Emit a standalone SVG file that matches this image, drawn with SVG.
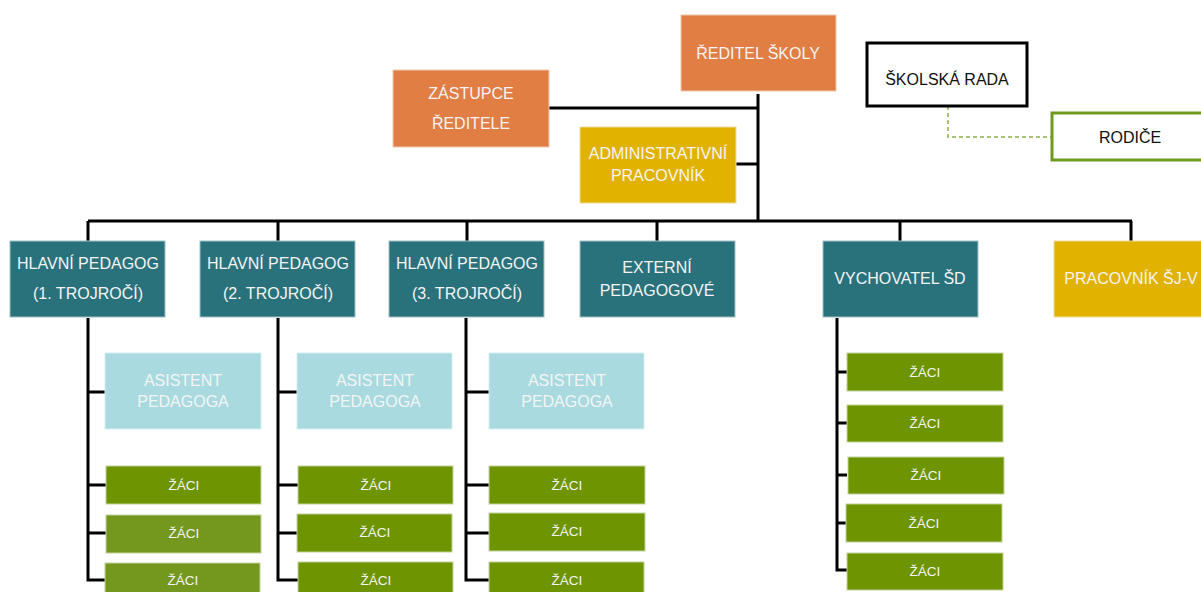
<svg xmlns="http://www.w3.org/2000/svg" width="1201" height="592" viewBox="0 0 1201 592">
<style>
.t{font-family:"Liberation Sans",Arial,sans-serif;font-size:16px;fill:#f4f4f4;text-anchor:middle;dominant-baseline:central}
.s{font-size:13.5px}
.k{fill:#111}
.or{fill:#E07E43;stroke:#f0c9ae;stroke-width:1}
.ye{fill:#E1B300;stroke:#f0dc99;stroke-width:1}
.te{fill:#2A727B;stroke:#9cc0c4;stroke-width:1}
.lb{fill:#A9DAE0;stroke:#d5eef0;stroke-width:1}
.gr{fill:#6E9400;stroke:#c2d499;stroke-width:1}
.gr2{fill:#74981E;stroke:#c2d499;stroke-width:1}
.c{fill:none;stroke:#000;stroke-width:3}
</style>
<g id="connectors">
<path class="c" d="M758 94V222M549 108H758M736 164H758"/>
<path class="c" d="M88 221H1132M88 221V241M278 221V241M467 221V241M657 221V241M900 221V241M1131 221V241"/>
<path class="c" d="M88 318V580H106M88 392H105M88 485H106M88 533H106"/>
<path class="c" d="M278 318V580H298M278 392H297M278 485H298M278 533H298"/>
<path class="c" d="M466 318V580H489M466 392H489M466 485H489M466 533H489"/>
<path class="c" d="M837 318V570H847M837 372H847M837 423H847M837 475H847M837 523H847"/>
<path d="M948 106V137H1052" fill="none" stroke="#8bb04a" stroke-width="1.5" stroke-dasharray="4 3"/>
</g>
<g id="reditel"><rect class="or" x="681" y="15" width="155" height="76"/><text class="t" x="758" y="53">ŘEDITEL ŠKOLY</text></g>
<g id="zastupce"><rect class="or" x="393" y="70" width="156" height="77"/><text class="t" x="471" y="93">ZÁSTUPCE</text><text class="t" x="471" y="123">ŘEDITELE</text></g>
<g id="admin"><rect class="ye" x="580" y="127" width="156" height="76"/><text class="t" x="658" y="153">ADMINISTRATIVNÍ</text><text class="t" x="658" y="175">PRACOVNÍK</text></g>
<g id="rada"><rect x="867" y="43" width="160" height="63" fill="#fff" stroke="#000" stroke-width="3"/><text class="t k" x="947" y="79">ŠKOLSKÁ  RADA</text></g>
<g id="rodice"><rect x="1052" y="113" width="160" height="47" fill="#fff" stroke="#6E9A1E" stroke-width="3"/><text class="t k" x="1130" y="137">RODIČE</text></g>
<g id="hp1"><rect class="te" x="10" y="241" width="155" height="76"/><text class="t" x="88" y="263">HLAVNÍ PEDAGOG</text><text class="t" x="88" y="293">(1. TROJROČÍ)</text></g>
<g id="hp2"><rect class="te" x="200" y="241" width="155" height="76"/><text class="t" x="278" y="263">HLAVNÍ PEDAGOG</text><text class="t" x="278" y="293">(2. TROJROČÍ)</text></g>
<g id="hp3"><rect class="te" x="389" y="241" width="155" height="76"/><text class="t" x="467" y="263">HLAVNÍ PEDAGOG</text><text class="t" x="467" y="293">(3. TROJROČÍ)</text></g>
<g id="externi"><rect class="te" x="580" y="241" width="155" height="76"/><text class="t" x="657" y="267">EXTERNÍ</text><text class="t" x="657" y="290">PEDAGOGOVÉ</text></g>
<g id="vychovatel"><rect class="te" x="823" y="241" width="155" height="76"/><text class="t" x="900" y="278">VYCHOVATEL ŠD</text></g>
<g id="sjv"><rect class="ye" x="1054" y="241" width="156" height="76"/><text class="t" x="1131" y="278">PRACOVNÍK ŠJ-V</text></g>
<g id="as1"><rect class="lb" x="105" y="353" width="156" height="76"/><text class="t" x="183" y="380">ASISTENT</text><text class="t" x="183" y="401">PEDAGOGA</text></g>
<g id="as2"><rect class="lb" x="297" y="353" width="155" height="76"/><text class="t" x="375" y="380">ASISTENT</text><text class="t" x="375" y="401">PEDAGOGA</text></g>
<g id="as3"><rect class="lb" x="489" y="353" width="155" height="76"/><text class="t" x="567" y="380">ASISTENT</text><text class="t" x="567" y="401">PEDAGOGA</text></g>
<g id="z1a"><rect class="gr" x="106" y="466" width="155" height="38"/><text class="t s" x="184" y="485">ŽÁCI</text></g>
<g id="z1b"><rect class="gr2" x="106" y="515" width="155" height="38"/><text class="t s" x="184" y="533">ŽÁCI</text></g>
<g id="z1c"><rect class="gr2" x="105" y="563" width="155" height="38"/><text class="t s" x="183" y="580">ŽÁCI</text></g>
<g id="z2a"><rect class="gr" x="298" y="466" width="155" height="38"/><text class="t s" x="376" y="485">ŽÁCI</text></g>
<g id="z2b"><rect class="gr" x="297" y="514" width="155" height="38"/><text class="t s" x="375" y="532">ŽÁCI</text></g>
<g id="z2c"><rect class="gr" x="298" y="562" width="155" height="38"/><text class="t s" x="376" y="580">ŽÁCI</text></g>
<g id="z3a"><rect class="gr" x="489" y="466" width="156" height="38"/><text class="t s" x="567" y="485">ŽÁCI</text></g>
<g id="z3b"><rect class="gr" x="489" y="513" width="156" height="38"/><text class="t s" x="567" y="531">ŽÁCI</text></g>
<g id="z3c"><rect class="gr" x="489" y="562" width="155" height="38"/><text class="t s" x="567" y="580">ŽÁCI</text></g>
<g id="zv1"><rect class="gr" x="847" y="353" width="156" height="38"/><text class="t s" x="925" y="372">ŽÁCI</text></g>
<g id="zv2"><rect class="gr" x="847" y="405" width="156" height="37"/><text class="t s" x="925" y="423">ŽÁCI</text></g>
<g id="zv3"><rect class="gr" x="848" y="457" width="156" height="37"/><text class="t s" x="926" y="475">ŽÁCI</text></g>
<g id="zv4"><rect class="gr" x="846" y="504" width="156" height="38"/><text class="t s" x="924" y="523">ŽÁCI</text></g>
<g id="zv5"><rect class="gr" x="847" y="553" width="156" height="37"/><text class="t s" x="925" y="571">ŽÁCI</text></g>
</svg>
